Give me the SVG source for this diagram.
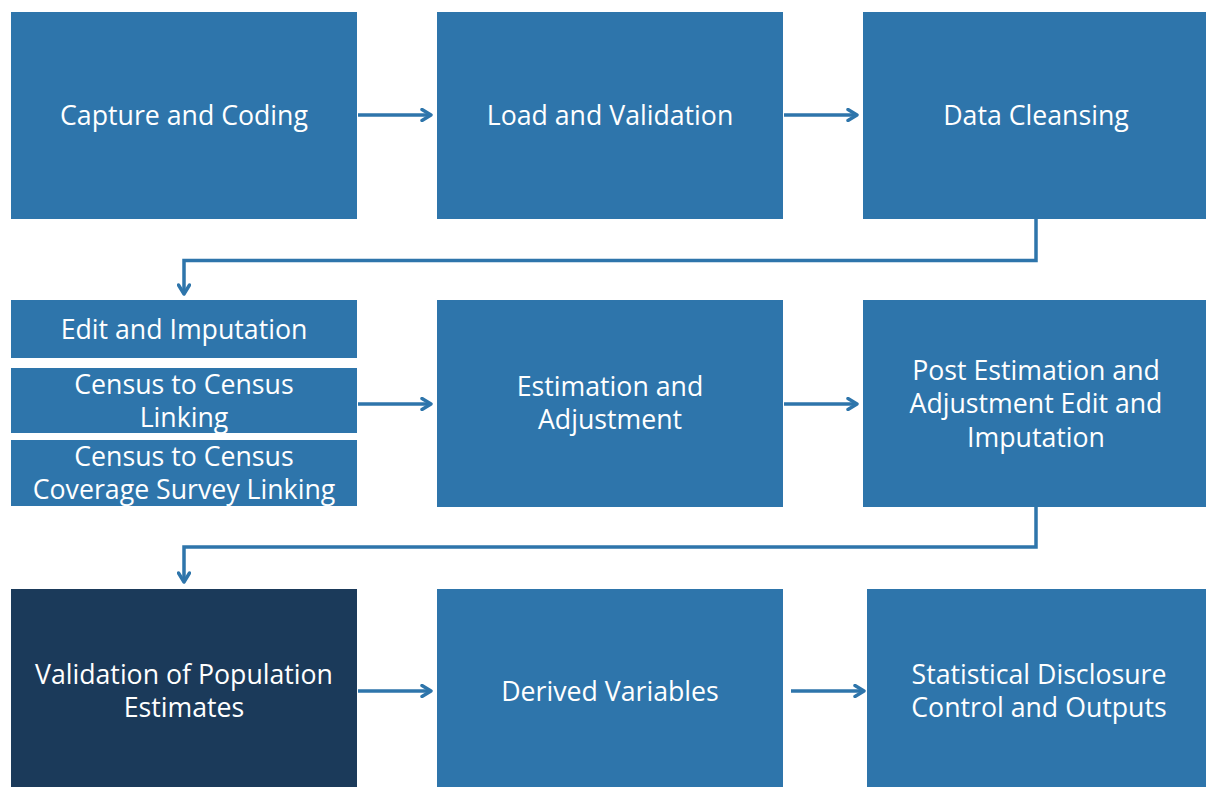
<svg xmlns="http://www.w3.org/2000/svg" width="1206" height="787" viewBox="0 0 1206 787">
  <defs>
    <marker id="chev" viewBox="0 0 14 14" refX="12" refY="7" markerWidth="14" markerHeight="14" markerUnits="userSpaceOnUse" orient="auto">
      <path d="M3,1.5 L12,7 L3,12.5" fill="none" stroke="#2E75AB" stroke-width="3.4" stroke-linecap="round" stroke-linejoin="round"/>
    </marker>
  </defs>
  <style>
    .box { fill: #2E75AB; }
    .dark { fill: #1B3A5A; }
    .lbl { font-family: "Open Sans", "Liberation Sans", sans-serif; font-size: 26.7px; fill: #FFFFFF; text-anchor: middle; }
    .conn { fill: none; stroke: #2E75AB; stroke-width: 3.5; marker-end: url(#chev); }
  </style>
  <rect width="1206" height="787" fill="#FFFFFF"/>

  <g id="capture">
    <rect class="box" x="11" y="12" width="346" height="207"/>
    <text class="lbl" x="184" y="125">Capture and Coding</text>
  </g>
  <g id="load">
    <rect class="box" x="437" y="12" width="346" height="207"/>
    <text class="lbl" x="610" y="125">Load and Validation</text>
  </g>
  <g id="cleansing">
    <rect class="box" x="863" y="12" width="343" height="207"/>
    <text class="lbl" x="1036" y="125">Data Cleansing</text>
  </g>

  <g id="edit">
    <rect class="box" x="11" y="300" width="346" height="58"/>
    <text class="lbl" x="184" y="339">Edit and Imputation</text>
  </g>
  <g id="c2c-linking">
    <rect class="box" x="11" y="368" width="346" height="65"/>
    <text class="lbl" x="184" y="394">Census to Census</text>
    <text class="lbl" x="184" y="427">Linking</text>
  </g>
  <g id="ccs-linking">
    <rect class="box" x="11" y="440" width="346" height="66"/>
    <text class="lbl" x="184" y="466">Census to Census</text>
    <text class="lbl" x="184" y="499">Coverage Survey Linking</text>
  </g>
  <g id="estimation">
    <rect class="box" x="437" y="300" width="346" height="207"/>
    <text class="lbl" x="610" y="396">Estimation and</text>
    <text class="lbl" x="610" y="429">Adjustment</text>
  </g>
  <g id="post-estimation">
    <rect class="box" x="863" y="300" width="343" height="207"/>
    <text class="lbl" x="1036" y="380">Post Estimation and</text>
    <text class="lbl" x="1036" y="413">Adjustment Edit and</text>
    <text class="lbl" x="1036" y="447">Imputation</text>
  </g>

  <g id="validation-pop">
    <rect class="dark" x="11" y="589" width="346" height="198"/>
    <text class="lbl" x="184" y="684">Validation of Population</text>
    <text class="lbl" x="184" y="717">Estimates</text>
  </g>
  <g id="derived">
    <rect class="box" x="437" y="589" width="346" height="198"/>
    <text class="lbl" x="610" y="701">Derived Variables</text>
  </g>
  <g id="sdc">
    <rect class="box" x="867" y="589" width="339" height="198"/>
    <text class="lbl" x="1039" y="684">Statistical Disclosure</text>
    <text class="lbl" x="1039" y="717">Control and Outputs</text>
  </g>

  <g id="connectors">
    <path class="conn" d="M358,115 H431"/>
    <path class="conn" d="M784,115 H857"/>
    <path class="conn" d="M1036,219 V260.5 H184 V294"/>
    <path class="conn" d="M358,404 H431"/>
    <path class="conn" d="M784,404 H857"/>
    <path class="conn" d="M1036,507 V547 H184 V582"/>
    <path class="conn" d="M358,691 H431"/>
    <path class="conn" d="M791,691 H864"/>
  </g>
</svg>
